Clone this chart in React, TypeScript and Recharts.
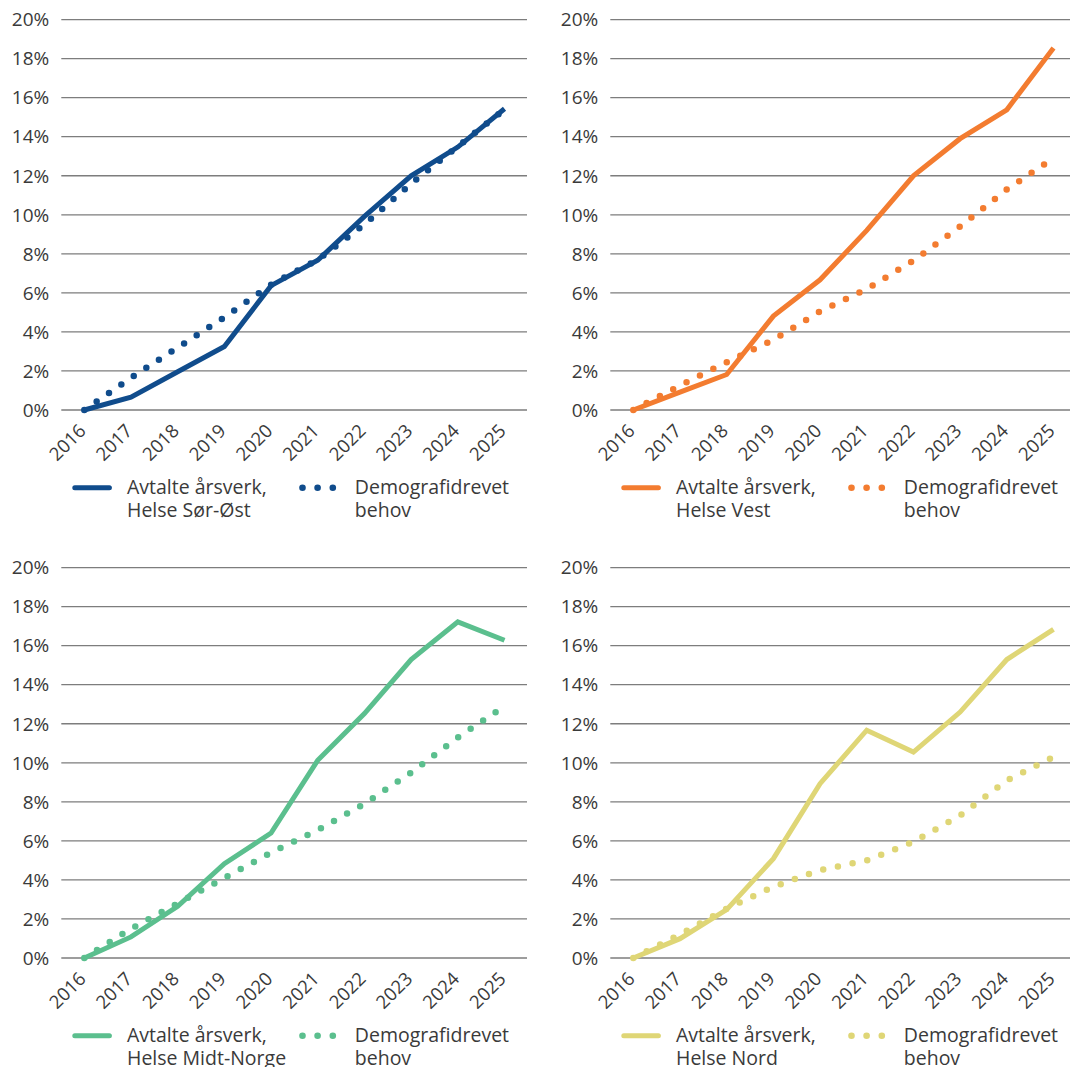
import React from 'react';
import { LineChart, Line, XAxis, YAxis, CartesianGrid, Legend } from 'recharts';

const years = ['2016', '2017', '2018', '2019', '2020', '2021', '2022', '2023', '2024', '2025'];
const yTicks = [0, 2, 4, 6, 8, 10, 12, 14, 16, 18, 20];

const sorOstAvtalte = [0, 0.66, 1.96, 3.25, 6.37, 7.67, 9.92, 12.0, 13.47, 15.43];
const sorOstDemografi = [0, 1.65, 3.2, 4.75, 6.42, 7.7, 9.5, 11.6, 13.5, 15.4];

const vestAvtalte = [0, 0.92, 1.82, 4.81, 6.67, 9.2, 12.0, 13.9, 15.38, 18.55];
const vestDemografi = [0, 1.25, 2.45, 3.6, 5.05, 6.2, 7.65, 9.4, 11.3, 12.9];

const midtAvtalte = [0, 1.08, 2.65, 4.83, 6.4, 10.13, 12.52, 15.29, 17.22, 16.28];
const midtDemografi = [0, 1.5, 2.8, 4.1, 5.4, 6.55, 7.9, 9.5, 11.3, 12.9];

const nordAvtalte = [0, 0.99, 2.48, 5.09, 8.93, 11.67, 10.55, 12.6, 15.29, 16.84];
const nordDemografi = [0, 1.2, 2.53, 3.65, 4.5, 5.0, 5.95, 7.3, 9.1, 10.3];

const regionNames = ['Helse Sør-Øst', 'Helse Vest', 'Helse Midt-Norge', 'Helse Nord'];
const regionColors = ['#104c8c', '#f37c30', '#5bbf8e', '#dfd676'];
const avtalteLabel = 'Avtalte årsverk,';
const demografiLabel1 = 'Demografidrevet';
const demografiLabel2 = 'behov';

const seriesA = [sorOstAvtalte, vestAvtalte, midtAvtalte, nordAvtalte];
const seriesD = [sorOstDemografi, vestDemografi, midtDemografi, nordDemografi];

const FONT = '"Open Sans", sans-serif';
const TEXT = '#3a3a3a';
const GRID = '#7d7d7d';

const PANEL_W = 548;
const PANEL_H = 540;
const positions = [
  { left: 0, top: 0 },
  { left: 548.5, top: 0 },
  { left: 0, top: 547.5 },
  { left: 548.5, top: 547.5 },
];

function buildData(a: number[], d: number[]) {
  return years.map((y, i) => ({ year: y, avtalte: a[i], demografi: d[i] }));
}

const XTick = (props: any) => {
  const { x, y, payload } = props;
  return (
    <text
      transform={`translate(${x + 2.6},${y + 22}) rotate(-45)`}
      textAnchor="end"
      fontSize={18.5}
      fill={TEXT}
      fontFamily={FONT}
    >
      {payload.value}
    </text>
  );
};

const makeLegend = (color: string, name: string) => () => (
  <svg width={PANEL_W} height={80} style={{ display: 'block' }}>
    <line x1={74.8} x2={109.4} y1={27.8} y2={27.8} stroke={color} strokeWidth={5} strokeLinecap="round" />
    <text x={127} y={34.2} fontSize={19.5} fill={TEXT} fontFamily={FONT}>{avtalteLabel}</text>
    <text x={127} y={57.2} fontSize={19.5} fill={TEXT} fontFamily={FONT}>{name}</text>
    {[302.5, 317.6, 332.8].map((cx) => (
      <circle key={cx} cx={cx} cy={27.8} r={3.3} fill={color} />
    ))}
    <text x={354.8} y={34.2} fontSize={19.5} fill={TEXT} fontFamily={FONT}>{demografiLabel1}</text>
    <text x={354.8} y={57.2} fontSize={19.5} fill={TEXT} fontFamily={FONT}>{demografiLabel2}</text>
  </svg>
);

function Panel({ idx }: { idx: number }) {
  const color = regionColors[idx];
  const data = buildData(seriesA[idx], seriesD[idx]);
  return (
    <div style={{ position: 'absolute', left: positions[idx].left, top: positions[idx].top, width: PANEL_W, height: PANEL_H }}>
      <LineChart width={PANEL_W} height={PANEL_H} data={data} margin={{ top: 19.6, right: 21, left: 0, bottom: 0 }}>
        <CartesianGrid vertical={false} stroke={GRID} strokeWidth={1.3} />
        <XAxis
          dataKey="year"
          type="category"
          padding={{ left: 23, right: 22.5 }}
          axisLine={false}
          tickLine={false}
          tickSize={0}
          tickMargin={0}
          height={50}
          interval={0}
          tick={<XTick />}
        />
        <YAxis
          type="number"
          domain={[0, 20]}
          ticks={yTicks}
          width={61.3}
          axisLine={false}
          tickLine={false}
          tickSize={0}
          tickMargin={12}
          tickFormatter={(v: number) => `${v}%`}
          tick={{ fontSize: 19, fill: TEXT, fontFamily: FONT }}
          interval={0}
        />
        <Legend
          verticalAlign="bottom"
          height={80}
          content={makeLegend(color, regionNames[idx])}
          wrapperStyle={{ left: 0, bottom: 0, width: PANEL_W, height: 80 }}
        />
        <Line
          type="linear"
          dataKey="demografi"
          stroke={color}
          strokeWidth={6.5}
          strokeLinecap="round"
          strokeDasharray="0 15"
          dot={false}
          activeDot={false}
          isAnimationActive={false}
        />
        <Line
          type="linear"
          dataKey="avtalte"
          stroke={color}
          strokeWidth={5}
          dot={false}
          activeDot={false}
          isAnimationActive={false}
        />
      </LineChart>
    </div>
  );
}

export default function App() {
  return (
    <div style={{ position: 'absolute', left: 0, top: 0, width: 1070, height: 1067, overflow: 'hidden', background: '#fff' }}>
      {[0, 1, 2, 3].map((i) => (
        <Panel key={i} idx={i} />
      ))}
    </div>
  );
}
